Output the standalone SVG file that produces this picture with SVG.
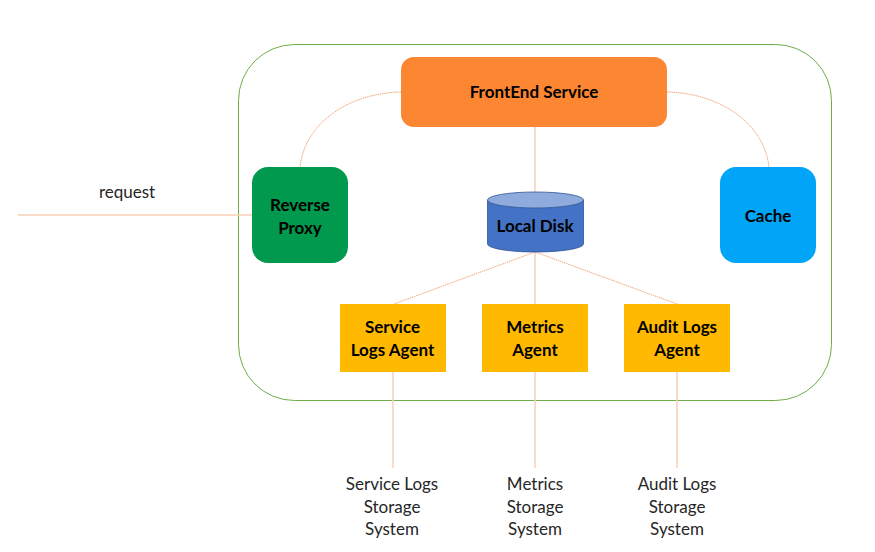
<svg xmlns="http://www.w3.org/2000/svg" width="875" height="552" viewBox="0 0 875 552">
<style>
.t{font-family:"Lato","Liberation Sans",sans-serif;text-anchor:middle;fill:#000}
.b{font-size:17px;font-weight:700}
.n{font-size:17px;fill:#262626}
.c{fill:none;stroke:#f4a97a;stroke-width:1}
.s{stroke:#f8cfb4;stroke-width:1.500;fill:none}
.a{fill:#ffb900}
</style>
<rect width="875" height="552" fill="#fff"/>
<rect id="boundary" x="238.5" y="44.5" width="593" height="356" rx="56" ry="56" fill="none" stroke="#70ad47" stroke-width="1"/>
<g id="connectors">
<path class="c" stroke-dasharray="1.5 .7" d="M401 92C350 93 305 122 300 167"/>
<path class="c" stroke-dasharray="1.5 .7" d="M667 92C718 93 764 122 769 167"/>
<path class="s" d="M535 127V192"/>
<path class="s" d="M18 215H252"/>
<path class="c" stroke-dasharray="1.500 .7" d="M535 252L394 304"/>
<path class="s" d="M535 252V304"/>
<path class="c" stroke-dasharray="1.500 .7" d="M535 252L677 304"/>
<path class="s" d="M393 372V468"/>
<path class="s" d="M535 372V468"/>
<path class="s" d="M677 372V468"/>
</g>
<g id="frontend"><rect x="401" y="57" width="266" height="70" rx="13" fill="#fc8631"/><text class="t b" x="534" y="97.500">FrontEnd Service</text></g>
<g id="proxy"><rect x="252" y="167" width="96" height="96" rx="16" fill="#00994d"/><text class="t b" x="300" y="210.500">Reverse</text><text class="t b" x="300" y="233.500">Proxy</text></g>
<g id="cache"><rect x="720" y="167" width="96" height="96" rx="16" fill="#00a5f8"/><text class="t b" x="768" y="221.500">Cache</text></g>
<g id="disk">
<path d="M487.500 200V244A48 8 0 0 0 583.500 244V200Z" fill="#4472c4" stroke="#2f5597" stroke-width=".8"/>
<ellipse cx="535.500" cy="200" rx="48" ry="8" fill="#8faadc" stroke="#2f5597" stroke-width=".8"/>
<text class="t b" x="535" y="231.500">Local Disk</text></g>
<g id="agent-service"><rect class="a" x="340" y="304" width="106" height="68"/><text class="t b" x="392.500" y="332.500">Service</text><text class="t b" x="392.500" y="355.500">Logs Agent</text></g>
<g id="agent-metrics"><rect class="a" x="482" y="304" width="106" height="68"/><text class="t b" x="535" y="332.500">Metrics</text><text class="t b" x="535" y="355.500">Agent</text></g>
<g id="agent-audit"><rect class="a" x="624" y="304" width="106" height="68"/><text class="t b" x="677" y="332.500">Audit Logs</text><text class="t b" x="677" y="355.500">Agent</text></g>
<g id="request"><text class="t n" x="127" y="197.500">request</text></g>
<g id="store-service"><text class="t n" x="392" y="489.500">Service Logs</text><text class="t n" x="392" y="512.500">Storage</text><text class="t n" x="392" y="534.500">System</text></g>
<g id="store-metrics"><text class="t n" x="535" y="489.500">Metrics</text><text class="t n" x="535" y="512.500">Storage</text><text class="t n" x="535" y="534.500">System</text></g>
<g id="store-audit"><text class="t n" x="677" y="489.500">Audit Logs</text><text class="t n" x="677" y="512.500">Storage</text><text class="t n" x="677" y="534.500">System</text></g>
</svg>
